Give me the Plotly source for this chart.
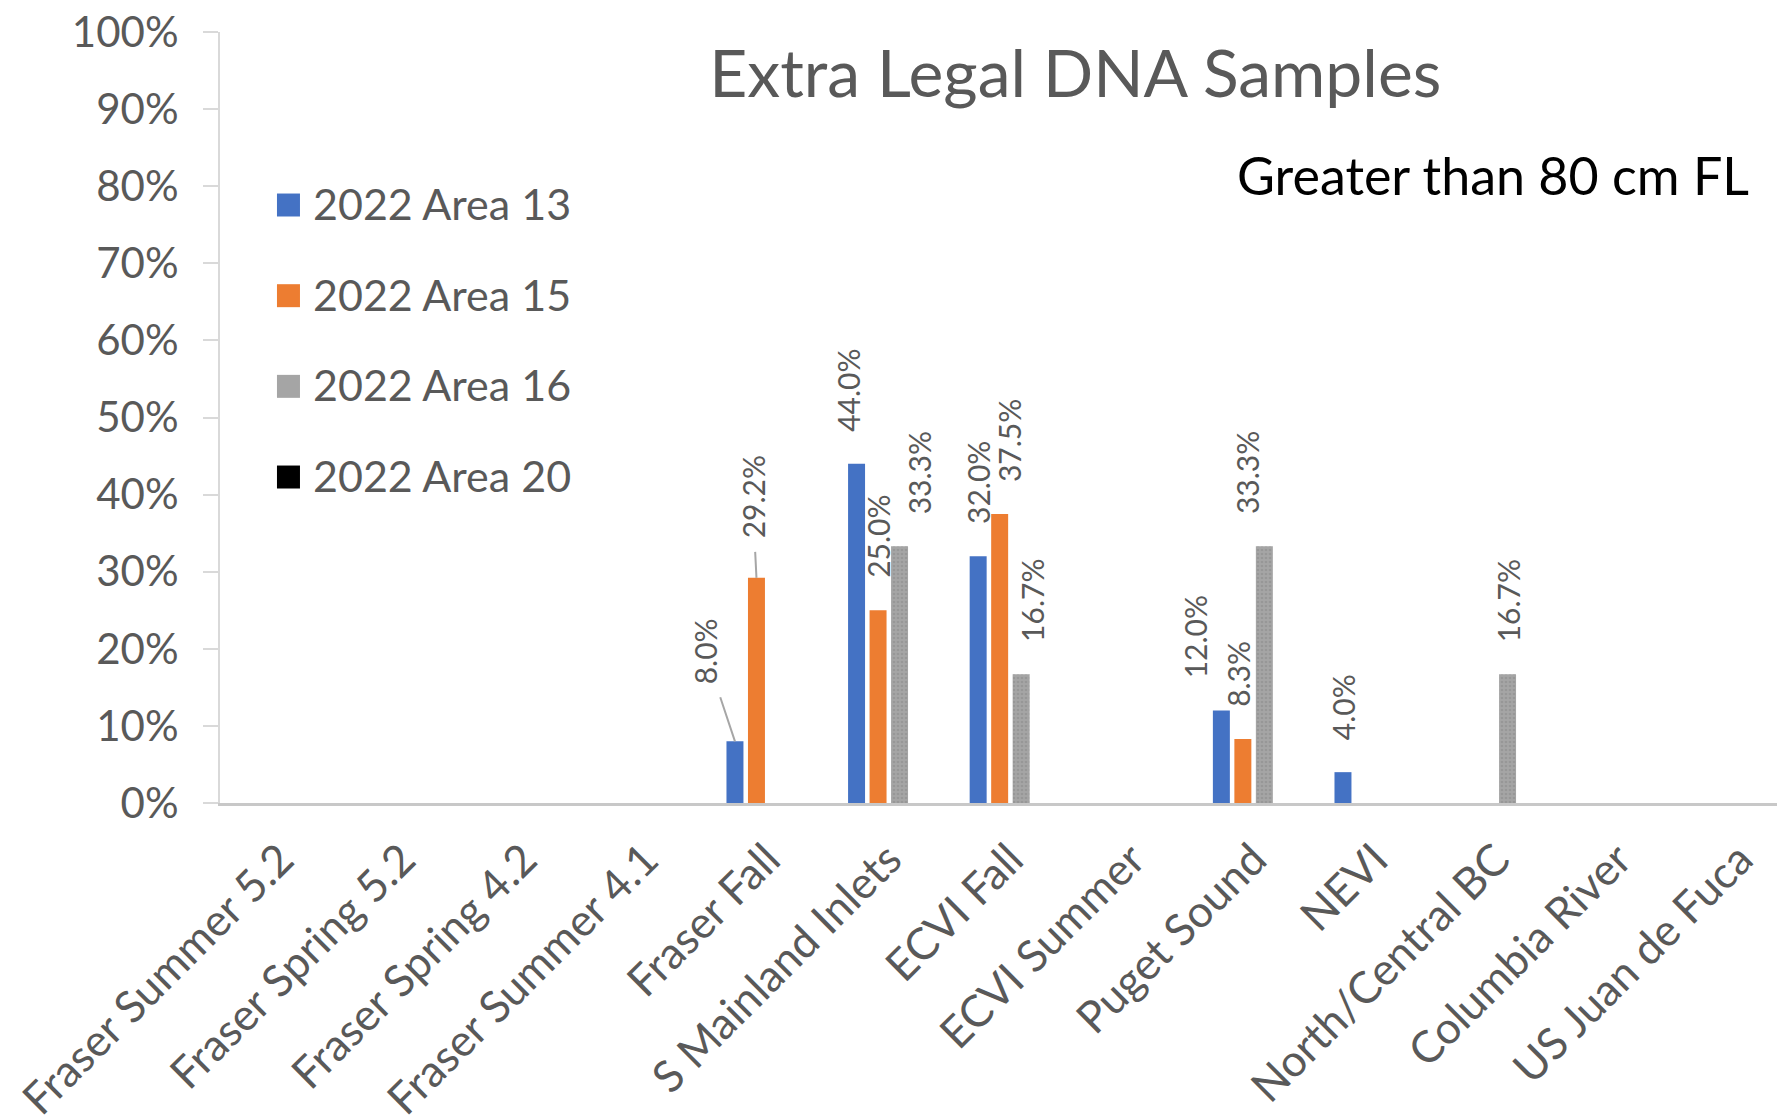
import plotly.graph_objects as go

categories = [
    "Fraser Summer 5.2", "Fraser Spring 5.2", "Fraser Spring 4.2", "Fraser Summer 4.1",
    "Fraser Fall", "S Mainland Inlets", "ECVI Fall", "ECVI Summer", "Puget Sound",
    "NEVI", "North/Central BC", "Columbia River", "US Juan de Fuca",
]
area_13 = [None, None, None, None, 8.0, 44.0, 32.0, None, 12.0, 4.0, None, None, None]
area_15 = [None, None, None, None, 29.2, 25.0, 37.5, None, 8.3, None, None, None, None]
area_16 = [None, None, None, None, None, 33.3, 16.7, None, 33.3, None, 16.7, None, None]
area_20 = [None] * 13
series_names = ["2022 Area 13", "2022 Area 15", "2022 Area 16", "2022 Area 20"]
y_ticks = [0, 10, 20, 30, 40, 50, 60, 70, 80, 90, 100]

series_values = [area_13, area_15, area_16, area_20]
colors = ["#4472C4", "#ED7D31", "#A5A5A5", "#000000"]

FONT = "Lato, Calibri, sans-serif"
GREY = "#595959"
BARGAP = 0.293
slot = (1 - BARGAP) / len(series_values)

# labels that were dragged sideways in the original (px)
label_dx = {(0, 5): -8, (2, 5): 19, (1, 6): 10, (2, 6): 11,
            (0, 8): -26, (1, 8): -5, (2, 8): -18}
# labels with a leader line: text offset from bar top (px)
leader = {(0, 4): (-30, -90), (1, 4): (-4, -81)}

fig = go.Figure()
for k, (name, vals, col) in enumerate(zip(series_names, series_values, colors)):
    marker = dict(color=col, line_width=0)
    if k == 2:
        marker["pattern"] = dict(shape=".", fgcolor="#8a8a8a", bgcolor=col, size=4, solidity=0.35)
    fig.add_trace(go.Bar(x=categories, y=vals, name=name, marker=marker,
                         showlegend=False, cliponaxis=False))

    for i, v in enumerate(vals):
        if v is None:
            continue
        xpos = i + (k - 1.5) * slot
        lab_font = dict(family=FONT, size=30, color=GREY)
        if (k, i) in leader:
            ax, ay = leader[(k, i)]
            fig.add_annotation(x=xpos, y=v, text=f"{v:.1f}%", textangle=-90,
                               showarrow=True, arrowhead=0, arrowwidth=2,
                               arrowcolor="#A6A6A6", ax=ax, ay=ay,
                               startstandoff=12, font=lab_font)
        else:
            fig.add_annotation(x=xpos, y=v, text=f"{v:.1f}%", textangle=-90,
                               showarrow=False, yanchor="bottom", yshift=30,
                               xshift=label_dx.get((k, i), 0), font=lab_font)

    # legend drawn by hand so the swatches match the original's size
    yc = 0.7756 - k * 0.1176
    fig.add_shape(type="rect", xref="paper", yref="paper",
                  x0=0.0364, x1=0.0511, y0=yc - 0.0149, y1=yc + 0.0149,
                  fillcolor=col, line_width=0)
    fig.add_annotation(text=name, xref="paper", yref="paper", x=0.058, y=yc + 0.002,
                       xanchor="left", yanchor="middle", showarrow=False,
                       font=dict(family=FONT, size=43, color=GREY))

fig.add_annotation(text="Greater than 80 cm FL", xref="paper", yref="paper",
                   x=0.978, y=0.815, xanchor="right", yanchor="middle",
                   showarrow=False, font=dict(family=FONT, size=52, color="black"))

fig.update_layout(
    width=1777, height=1112,
    margin=dict(l=212, r=0, t=24, b=317),
    paper_bgcolor="white", plot_bgcolor="white",
    title=dict(text="Extra Legal DNA Samples", x=0.6006, xanchor="center",
               y=0.9406, yanchor="middle",
               font=dict(family=FONT, size=66, color=GREY)),
    barmode="group", bargap=BARGAP, bargroupgap=0.21,
    showlegend=False,
    font=dict(family=FONT, color=GREY),
)
fig.update_xaxes(
    type="category", range=[-0.5, 12.37], showline=True, linecolor="#C8C8C8",
    linewidth=3, ticks="", tickangle=-45, ticklabelstandoff=10,
    tickfont=dict(family=FONT, size=44, color=GREY), showgrid=False, automargin=False,
)
fig.update_yaxes(
    range=[0, 100], tickvals=y_ticks, ticktext=[f"{t}%" for t in y_ticks],
    showline=True, linecolor="#D9D9D9", linewidth=2, ticks="outside", ticklen=15,
    tickcolor="#D9D9D9", tickwidth=2, ticklabelstandoff=16, ticklabeloverflow="allow",
    tickfont=dict(family=FONT, size=42, color=GREY), showgrid=False,
    zeroline=False, automargin=False,
)

fig.write_html("out.html")
